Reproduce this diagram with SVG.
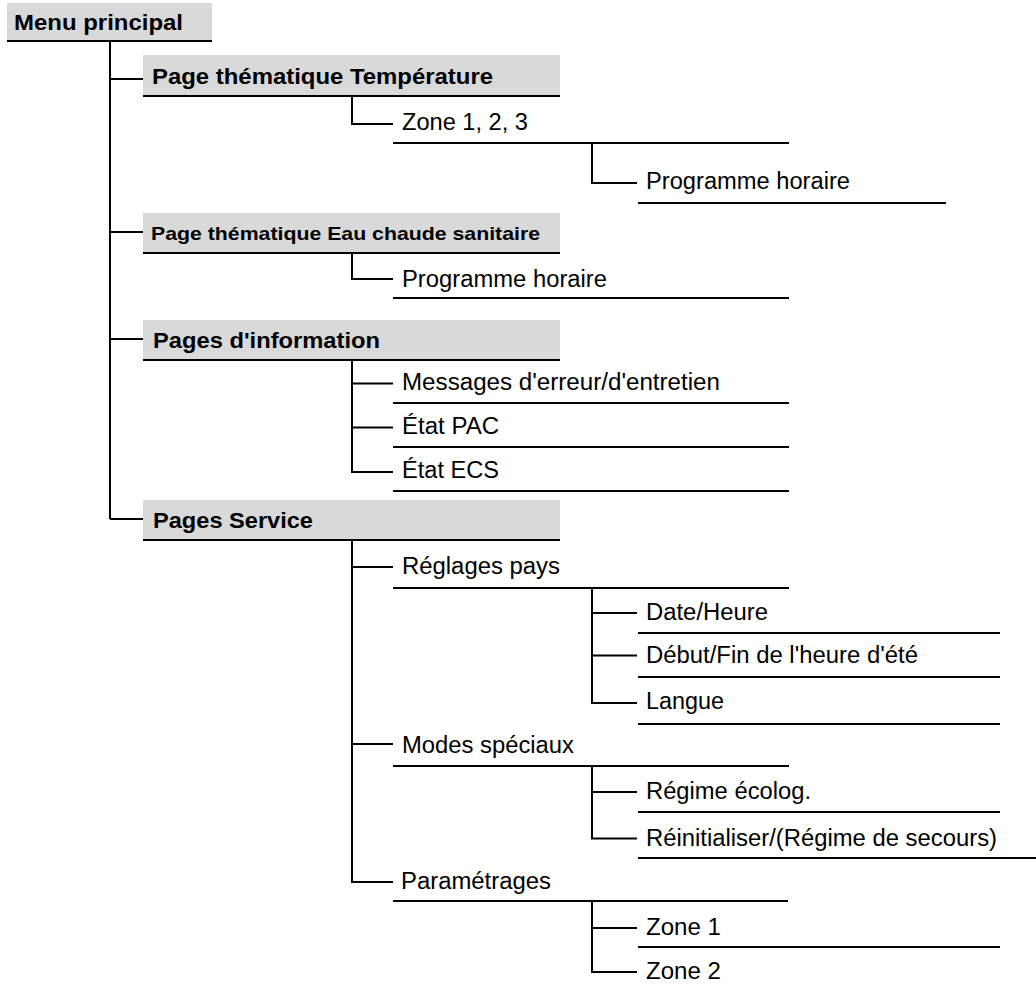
<svg xmlns="http://www.w3.org/2000/svg" width="1036" height="987" viewBox="0 0 1036 987">
<style>
.bg{fill:#ffffff}
.box{fill:#d9d9d9;stroke:none}
.ln{stroke:#000;stroke-width:2;fill:none}
.b{font-family:"Liberation Sans",Arial,sans-serif;font-weight:bold;font-size:22px;fill:#000}
.bs{font-family:"Liberation Sans",Arial,sans-serif;font-weight:bold;font-size:19px;fill:#000}
.r{font-family:"Liberation Sans",Arial,sans-serif;font-size:23px;fill:#000}
</style>
<rect class="bg" x="0" y="0" width="1036" height="987"/>
<g id="connectors">
<path class="ln" d="M110 41V519M110 79H143M110 232H143M110 339H143M110 519H143"/>
<path class="ln" d="M352 96V124H393"/>
<path class="ln" d="M592 143V183H637"/>
<path class="ln" d="M352 253V279H393"/>
<path class="ln" d="M352 360V472H393M352 383.5H393M352 427.5H393"/>
<path class="ln" d="M352 540V882H393M352 567H393M352 744H393"/>
<path class="ln" d="M592 588V703H637M592 613H637M592 655.5H637"/>
<path class="ln" d="M592 766V838.5H637M592 792H637"/>
<path class="ln" d="M592 901V972H637M592 928H637"/>
</g>
<g id="menu-principal">
<rect class="box" x="7" y="3" width="205" height="38"/>
<path class="ln" d="M7 41H212"/>
<text class="b" x="14" y="29.5" textLength="169" lengthAdjust="spacingAndGlyphs">Menu principal</text>
</g>
<g id="page-temperature">
<rect class="box" x="143" y="55" width="417" height="41"/>
<path class="ln" d="M143 96H560"/>
<text class="b" x="152" y="83.5" textLength="341" lengthAdjust="spacingAndGlyphs">Page thématique Température</text>
</g>
<g id="zone-123">
<text class="r" x="402" y="130" textLength="126" lengthAdjust="spacingAndGlyphs">Zone 1, 2, 3</text>
<path class="ln" d="M393 143H789"/>
</g>
<g id="programme-horaire-temp">
<text class="r" x="646" y="189" textLength="204" lengthAdjust="spacingAndGlyphs">Programme horaire</text>
<path class="ln" d="M638 203H946"/>
</g>
<g id="page-ecs">
<rect class="box" x="143" y="213" width="417" height="40"/>
<path class="ln" d="M143 253H560"/>
<text class="bs" x="151" y="239.5" textLength="389" lengthAdjust="spacingAndGlyphs">Page thématique Eau chaude sanitaire</text>
</g>
<g id="programme-horaire-ecs">
<text class="r" x="402" y="286.5" textLength="205" lengthAdjust="spacingAndGlyphs">Programme horaire</text>
<path class="ln" d="M393 298H789"/>
</g>
<g id="pages-information">
<rect class="box" x="143" y="320" width="417" height="40"/>
<path class="ln" d="M143 360H560"/>
<text class="b" x="153" y="348" textLength="227" lengthAdjust="spacingAndGlyphs">Pages d'information</text>
</g>
<g id="messages">
<text class="r" x="402" y="390" textLength="318" lengthAdjust="spacingAndGlyphs">Messages d'erreur/d'entretien</text>
<path class="ln" d="M393 403H789"/>
</g>
<g id="etat-pac">
<text class="r" x="402" y="434" textLength="97" lengthAdjust="spacingAndGlyphs">État PAC</text>
<path class="ln" d="M393 447H789"/>
</g>
<g id="etat-ecs">
<text class="r" x="402" y="478" textLength="97" lengthAdjust="spacingAndGlyphs">État ECS</text>
<path class="ln" d="M393 491H789"/>
</g>
<g id="pages-service">
<rect class="box" x="143" y="500" width="417" height="40"/>
<path class="ln" d="M143 540H560"/>
<text class="b" x="153" y="527.5" textLength="160" lengthAdjust="spacingAndGlyphs">Pages Service</text>
</g>
<g id="reglages-pays">
<text class="r" x="402" y="574" textLength="158" lengthAdjust="spacingAndGlyphs">Réglages pays</text>
<path class="ln" d="M393 588H789"/>
</g>
<g id="date-heure">
<text class="r" x="646" y="619.5" textLength="122" lengthAdjust="spacingAndGlyphs">Date/Heure</text>
<path class="ln" d="M638 633H1000"/>
</g>
<g id="debut-fin">
<text class="r" x="646" y="662.5" textLength="272" lengthAdjust="spacingAndGlyphs">Début/Fin de l'heure d'été</text>
<path class="ln" d="M638 677H1000"/>
</g>
<g id="langue">
<text class="r" x="646" y="709" textLength="78" lengthAdjust="spacingAndGlyphs">Langue</text>
<path class="ln" d="M638 724H1000"/>
</g>
<g id="modes-speciaux">
<text class="r" x="402" y="753" textLength="172" lengthAdjust="spacingAndGlyphs">Modes spéciaux</text>
<path class="ln" d="M393 766H789"/>
</g>
<g id="regime-ecolog">
<text class="r" x="646" y="799" textLength="165" lengthAdjust="spacingAndGlyphs">Régime écolog.</text>
<path class="ln" d="M638 812H1000"/>
</g>
<g id="reinitialiser">
<text class="r" x="646" y="845.5" textLength="351" lengthAdjust="spacingAndGlyphs">Réinitialiser/(Régime de secours)</text>
<path class="ln" d="M638 858H1036"/>
</g>
<g id="parametrages">
<text class="r" x="401" y="889" textLength="150" lengthAdjust="spacingAndGlyphs">Paramétrages</text>
<path class="ln" d="M393 901H788"/>
</g>
<g id="zone-1">
<text class="r" x="646" y="935" textLength="75" lengthAdjust="spacingAndGlyphs">Zone 1</text>
<path class="ln" d="M638 947H1000"/>
</g>
<g id="zone-2">
<text class="r" x="646" y="979" textLength="75" lengthAdjust="spacingAndGlyphs">Zone 2</text>
</g>
</svg>
